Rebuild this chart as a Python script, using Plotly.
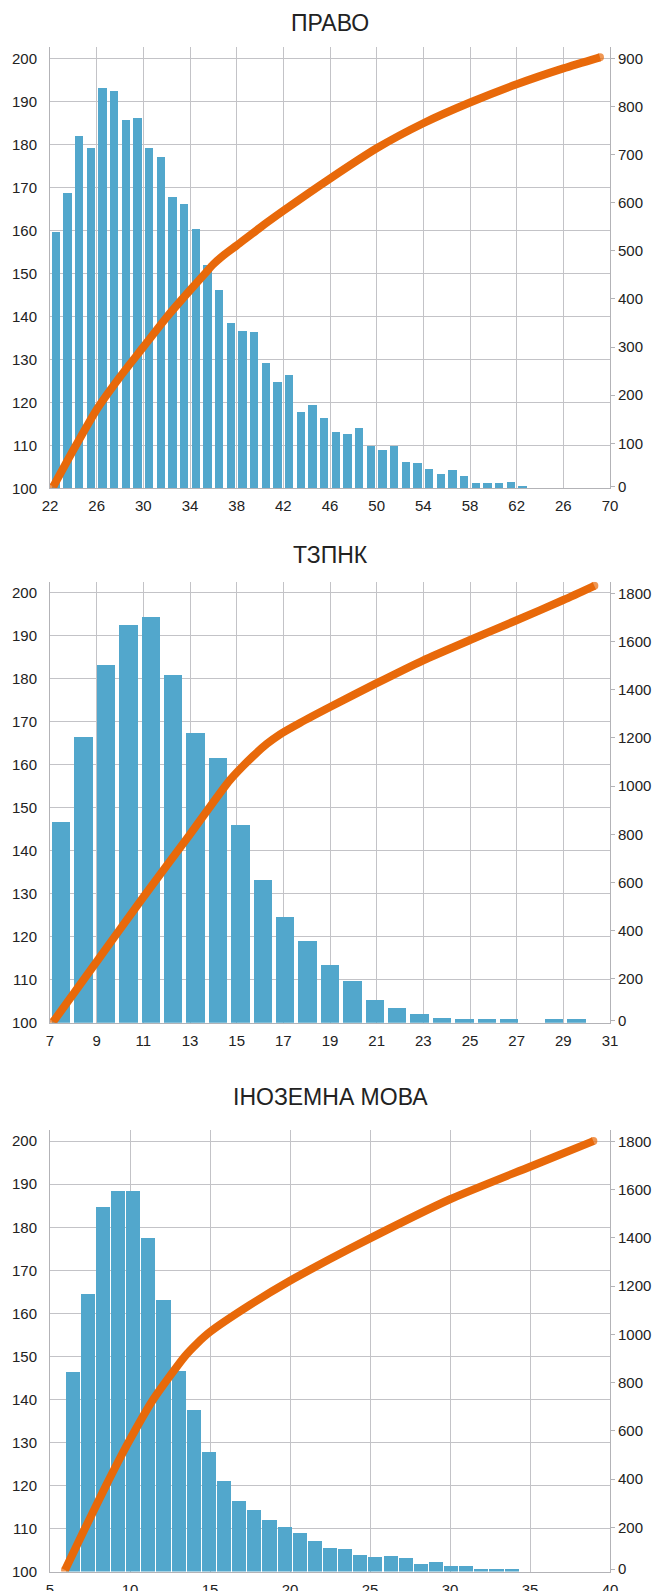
import plotly.graph_objects as go

W, H = 659, 1591

# ---------------- data ----------------
# Chart 1: ПРАВО
pravo_title = "ПРАВО"
pravo_cats = list(range(22, 70))
pravo_bars = [159.7, 168.7, 181.9, 179.2, 193.1, 192.5, 185.7, 186.1, 179.2, 177.0,
              167.7, 166.1, 160.3, 152.0, 146.1, 138.5, 136.6, 136.3, 129.1, 124.7,
              126.4, 117.8, 119.4, 116.4, 113.1, 112.6, 114.0, 109.8, 108.9, 109.8,
              106.1, 106.0, 104.5, 103.3, 104.2, 102.9, 101.3, 101.3, 101.3, 101.5,
              100.5, None, None, None, None, None, None, None]
pravo_line_x = [22.28, 24.0, 26.0, 28.0, 30.0, 32.0, 34.0, 35.3, 36.0, 37.0, 38.0, 40.0, 42.0,
                46.0, 50.0, 54.0, 58.0, 62.0, 66.0, 69.14]
pravo_line_y = [10, 86, 170, 238, 300, 362, 418, 453, 472, 493, 511, 548, 583,
                650, 713, 765, 808, 846, 879, 902]
pravo_xticks = [22, 26, 30, 34, 38, 42, 46, 50, 54, 58, 62, 66, 70]
pravo_xlabels = ["22", "26", "30", "34", "38", "42", "46", "50", "54", "58", "62", "26", "70"]
pravo_rticks = [10.6, 100, 200, 300, 400, 500, 600, 700, 800, 900]
pravo_rlabels = ["0", "100", "200", "300", "400", "500", "600", "700", "800", "900"]

# Chart 2: ТЗПНК
tz_title = "ТЗПНК"
tz_cats = list(range(7, 32))
tz_bars = [146.8, 166.4, 183.3, 192.6, 194.5, 180.8, 167.5, 161.5, 145.9, 133.1,
           124.7, 119.1, 113.4, 109.7, 105.2, 103.5, 102.1, 101.2, 100.8, 100.8,
           100.8, None, 100.8, 100.8, None]
tz_line_x = [7.14, 9.0, 11.0, 13.0, 14.71, 15.71, 16.29, 16.86, 17.71, 19.0, 21.0, 23.0, 25.0, 27.0, 29.0, 30.33]
tz_line_y = [23, 272, 540, 800, 1025, 1125, 1175, 1215, 1262, 1328, 1427, 1522, 1606, 1688, 1772, 1831]
tz_xticks = [7, 9, 11, 13, 15, 17, 19, 21, 23, 25, 27, 29, 31]
tz_xlabels = [str(v) for v in tz_xticks]
tz_rticks = [27, 200, 400, 600, 800, 1000, 1200, 1400, 1600, 1800]
tz_rlabels = ["0", "200", "400", "600", "800", "1000", "1200", "1400", "1600", "1800"]

# Chart 3: ІНОЗЕМНА МОВА
im_title = "ІНОЗЕМНА МОВА"
im_cats = list(range(5, 42))
im_bars = [None, 146.4, 164.4, 184.8, 188.5, 188.5, 177.4, 163.0, 146.7, 137.6,
           127.8, 121.1, 116.4, 114.3, 112.0, 110.4, 109.0, 107.1, 105.5, 105.2,
           103.9, 103.4, 103.6, 103.2, 101.8, 102.3, 101.3, 101.3, 100.6, 100.6,
           100.6, None, None, None, None, None, None]
im_line_x = [5.94, 7.19, 8.5, 9.9, 11.46, 13.44, 14.2, 15.0, 17.5, 20.0, 22.5, 25.0, 30.0, 35.0, 38.96]
im_line_y = [23, 196, 373, 552, 731, 910, 963, 1010, 1122, 1222, 1312, 1398, 1560, 1695, 1801]
im_xticks = [5, 10, 15, 20, 25, 30, 35, 40]
im_xlabels = [str(v) for v in im_xticks]
im_rticks = [27, 200, 400, 600, 800, 1000, 1200, 1400, 1600, 1800]
im_rlabels = ["0", "200", "400", "600", "800", "1000", "1200", "1400", "1600", "1800"]

# ---------------- style ----------------
BAR = "#52a7cc"
LINE = "#e8690a"
GRID = "#c3c3c7"
AXL = "#b3b3b7"
TXT = "#222222"
FONT = "Liberation Sans, Arial, sans-serif"

charts = [
    dict(title=pravo_title, cats=pravo_cats, bars=pravo_bars, lx=pravo_line_x, ly=pravo_line_y,
         xr=[22, 70], xt=pravo_xticks, xl=pravo_xlabels, rt=pravo_rticks, rl=pravo_rlabels,
         rr=[6.4, 922.8], top=47.3, bot=488.3, ty=22.8, bw=0.71),
    dict(title=tz_title, cats=tz_cats, bars=tz_bars, lx=tz_line_x, ly=tz_line_y,
         xr=[7, 31], xt=tz_xticks, xl=tz_xlabels, rt=tz_rticks, rl=tz_rlabels,
         rr=[18.7, 1848], top=581.7, bot=1022.7, ty=554.7, bw=0.82),
    dict(title=im_title, cats=im_cats, bars=im_bars, lx=im_line_x, ly=im_line_y,
         xr=[5, 40], xt=im_xticks, xl=im_xlabels, rt=im_rticks, rl=im_rlabels,
         rr=[17, 1847], top=1130, bot=1571.5, ty=1097, bw=0.93),
]

fig = go.Figure()
layout = {}
annotations = []
xdom = [50 / W, 610 / W]

for i, c in enumerate(charts):
    xa, xb = 2 * i + 1, 2 * i + 2
    ya, yb = 2 * i + 1, 2 * i + 2
    xa_n = "x" if xa == 1 else f"x{xa}"
    ya_n = "y" if ya == 1 else f"y{ya}"
    xb_n, yb_n = f"x{xb}", f"y{yb}"
    ydom = [1 - c["bot"] / H, 1 - c["top"] / H]
    n = len(c["cats"])

    fig.add_trace(go.Bar(x=[str(v) for v in c["cats"]], y=c["bars"], marker_color=BAR,
                         marker_line_width=0, width=c["bw"], xaxis=xa_n, yaxis=ya_n,
                         showlegend=False, hoverinfo="skip"))
    sizes = [8] + [0] * (len(c["lx"]) - 2) + [8]
    fig.add_trace(go.Scatter(x=c["lx"], y=c["ly"], mode="lines+markers",
                             line=dict(color=LINE, width=8, shape="spline", smoothing=0.6),
                             marker=dict(color=LINE, size=sizes, line_width=0),
                             xaxis=xb_n, yaxis=yb_n, showlegend=False, hoverinfo="skip"))

    layout[f"xaxis{xa}" if xa > 1 else "xaxis"] = dict(
        domain=xdom, anchor=ya_n, type="category", range=[-0.5, n - 0.5],
        visible=False, fixedrange=True, automargin=False)
    layout[f"xaxis{xb}"] = dict(
        domain=xdom, anchor=ya_n, overlaying=xa_n, range=c["xr"], tickmode="array",
        tickvals=c["xt"], ticktext=c["xl"], showgrid=True, gridcolor=GRID, gridwidth=1,
        showline=True, linecolor=AXL, linewidth=1, zeroline=False, ticks="",
        ticklabelstandoff=4, automargin=False,
        tickfont=dict(size=15, color=TXT, family=FONT))
    layout[f"yaxis{ya}" if ya > 1 else "yaxis"] = dict(
        domain=ydom, anchor=xa_n, range=[100, 202.6], tickmode="linear", tick0=100, dtick=10,
        showgrid=True, gridcolor=GRID, gridwidth=1, showline=True, linecolor=AXL,
        linewidth=1, zeroline=False, ticks="", ticklabelstandoff=9, automargin=False,
        tickfont=dict(size=15, color=TXT, family=FONT))
    layout[f"yaxis{yb}"] = dict(
        domain=ydom, anchor=xb_n, overlaying=ya_n, side="right", range=c["rr"],
        tickmode="array", tickvals=c["rt"], ticktext=c["rl"], showgrid=False,
        showline=True, linecolor=AXL, linewidth=1, zeroline=False, ticks="outside",
        ticklen=4, tickcolor=AXL, automargin=False,
        tickfont=dict(size=15, color=TXT, family=FONT))
    annotations.append(dict(text=c["title"], x=330 / W, y=1 - c["ty"] / H, xref="paper",
                            yref="paper", xanchor="center", yanchor="middle", showarrow=False,
                            font=dict(size=23, color=TXT, family=FONT)))

fig.update_layout(**layout)
fig.update_layout(width=W, height=H, margin=dict(l=0, r=0, t=0, b=0, autoexpand=False),
                  paper_bgcolor="white", plot_bgcolor="white", annotations=annotations,
                  font=dict(family=FONT, color=TXT), bargap=0)
fig.write_html("out.html", config={"displayModeBar": False, "staticPlot": True},
               post_script="document.body.style.margin='0';document.body.style.overflow='hidden';")
